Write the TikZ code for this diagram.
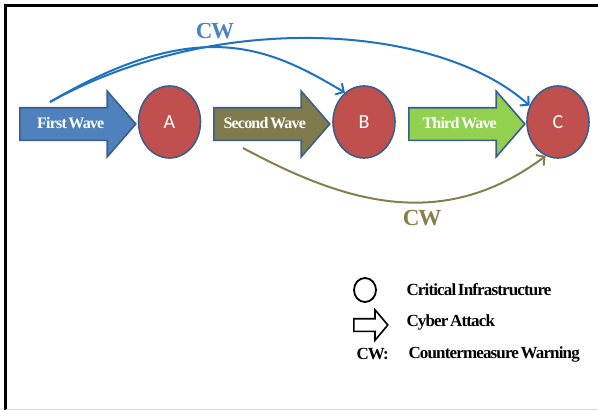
\documentclass[tikz,border=0pt]{standalone}
\usepackage{fontspec}
\setmainfont{Liberation Serif}
\newfontfamily\tightfont[LetterSpace=-5, WordSpace=0.5]{Liberation Serif}
\newfontfamily\sitefont{Carlito}
\usetikzlibrary{shapes.geometric,shapes.arrows,arrows.meta}
\definecolor{waveblue}{HTML}{4F81BD}
\definecolor{waveolive}{HTML}{807B4C}
\definecolor{wavegreen}{HTML}{92D050}
\definecolor{sitered}{HTML}{C0504D}
\definecolor{edgeblue}{HTML}{3B5E8C}
\definecolor{cwblue}{HTML}{1F72C0}
\definecolor{cwtext}{HTML}{4F81BD}
\definecolor{cwolive}{HTML}{857F4E}

\begin{document}
\begin{tikzpicture}[x=1pt,y=1pt,
    wave/.style={single arrow, draw=edgeblue, line width=1.6pt, text=white,
        font=\tightfont\bfseries\fontsize{16}{16}\selectfont, anchor=tail,
        minimum height=116pt, text height=11pt, text depth=3pt,
        inner ysep=8.5pt, inner xsep=2pt,
        single arrow head extend=16.5pt, single arrow tip angle=98},
    site/.style={ellipse, draw=edgeblue, line width=1.6pt, fill=sitered,
        text=white, font=\sitefont\fontsize{20}{20}\selectfont,
        minimum width=62pt, minimum height=72pt, inner sep=0pt},
    warn/.style={line width=2pt, -{Straight Barb[length=6pt,width=13pt]}},
    cwlabel/.style={font=\tightfont\bfseries\fontsize{23}{23}\selectfont},
    legend/.style={anchor=west, font=\tightfont\bfseries\fontsize{17}{18}\selectfont}]
    \useasboundingbox (0,0) rectangle (598,-410);
    \draw [line width=2.5pt] (5.5,-410) -- (5.5,-5.5) -- (598,-5.5);
    \draw [black!15, line width=1pt] (5.5,-409) -- (598,-409);
    \node [wave, fill=waveblue] (first) at (19,-124) {First Wave};
    \node [site] (A) at (169.5,-122) {A};
    \node [wave, fill=waveolive] (second) at (213,-124) {Second Wave};
    \node [site] (B) at (364,-122) {B};
    \node [wave, fill=wavegreen] (third) at (408,-124) {Third Wave};
    \node [site] (C) at (558,-122) {C};
    \coordinate (cwfrom) at (50,-102);
    \coordinate (cwfromtwo) at (243,-148);
    \draw [warn, cwblue] (cwfrom) .. controls (200,-14) and (270,-48) .. (B.123);
    \draw [warn, cwblue] (cwfrom) .. controls (220,-8) and (440,-25) .. (C.150);
    \draw [warn, cwolive] (cwfromtwo) .. controls (340,-200) and (440,-235) .. (C.250);
    \node [cwlabel, text=cwtext] (cwtop) at (215,-31) {CW};
    \node [cwlabel, text=cwolive] (cwbottom) at (422,-218) {CW};
    \node [ellipse, draw, line width=1.8pt, minimum width=22pt, minimum height=24pt,
        inner sep=0pt] (legsite) at (365,-290) {};
    \node [single arrow, draw, line width=1.6pt, anchor=tail, minimum height=34pt,
        text height=0pt, text depth=0pt, inner ysep=5.5pt, inner xsep=0pt,
        single arrow head extend=9pt, single arrow tip angle=100] (legwave) at (353,-325) {};
    \node [legend] (legsitetext) at (403,-290) {Critical Infrastructure};
    \node [legend] (legwavetext) at (403,-322) {Cyber Attack};
    \node [legend] (legcw) at (353,-354) {CW:};
    \node [legend] (legcwtext) at (405,-354) {Countermeasure Warning};
\end{tikzpicture}
\end{document}
